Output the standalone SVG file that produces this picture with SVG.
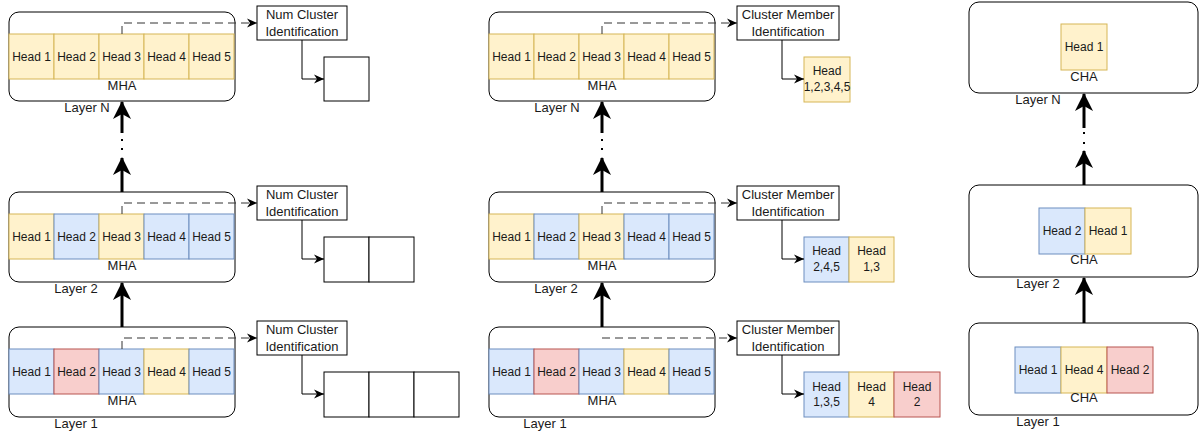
<svg xmlns="http://www.w3.org/2000/svg" width="1199" height="431" viewBox="0 0 1199 431">
<style>
text{font-family:"Liberation Sans",Arial,sans-serif;font-size:12px;fill:#1a1a1a;text-anchor:middle;dominant-baseline:central}
text.lb{font-size:13px}
.layer{fill:#fff;stroke:#000;stroke-width:1}
.y{fill:#fff2cc;stroke:#d6b656}
.b{fill:#dae8fc;stroke:#6c8ebf}
.r{fill:#f8cecc;stroke:#b85450}
.w{fill:#fff;stroke:#000}
.thick{fill:none;stroke:#000;stroke-width:3;marker-end:url(#big)}
.dash{fill:none;stroke:#333;stroke-width:1;stroke-dasharray:8 5;marker-end:url(#small)}
.solid{fill:none;stroke:#000;stroke-width:1;marker-end:url(#small)}
.dot{fill:#000}
</style>
<defs>
<marker id="big" markerUnits="userSpaceOnUse" viewBox="0 0 18 18" markerWidth="18" markerHeight="18" refX="17" refY="9" orient="auto">
<path d="M0,0 L18,9 L0,18 L5,9 Z" fill="#000"/>
</marker>
<marker id="small" markerUnits="userSpaceOnUse" viewBox="0 0 10 10" markerWidth="10" markerHeight="10" refX="10" refY="5" orient="auto">
<path d="M0,0.5 L10,5 L0,9.5 L3,5 Z" fill="#000"/>
</marker>
</defs>

<!-- ===== Panel 1 ===== -->
<g id="p1-layerN">
<rect class="layer" x="9" y="12" width="226" height="89" rx="10"/>
<rect class="y" x="9" y="34" width="45" height="45"/><text x="31.5" y="56.5">Head 1</text>
<rect class="y" x="54" y="34" width="45" height="45"/><text x="76.5" y="56.5">Head 2</text>
<rect class="y" x="99" y="34" width="45" height="45"/><text x="121.5" y="56.5">Head 3</text>
<rect class="y" x="144" y="34" width="45" height="45"/><text x="166.5" y="56.5">Head 4</text>
<rect class="y" x="189" y="34" width="45" height="45"/><text x="211.5" y="56.5">Head 5</text>
<text class="lb" x="122" y="85">MHA</text>
<text class="lb" x="87" y="107">Layer N</text>
</g>
<g id="p1-ncN">
<rect class="w" x="257" y="6" width="90" height="34"/>
<text class="lb" x="302" y="14.5">Num Cluster</text><text class="lb" x="302" y="31.5">Identification</text>
</g>
<g id="p1-resN">
<rect class="w" x="324" y="57" width="45" height="44"/>
</g>

<g id="p1-layer2">
<rect class="layer" x="9" y="192" width="226" height="90" rx="10"/>
<rect class="y" x="9" y="214" width="45" height="45"/><text x="31.5" y="236.5">Head 1</text>
<rect class="b" x="54" y="214" width="45" height="45"/><text x="76.5" y="236.5">Head 2</text>
<rect class="y" x="99" y="214" width="45" height="45"/><text x="121.5" y="236.5">Head 3</text>
<rect class="b" x="144" y="214" width="45" height="45"/><text x="166.5" y="236.5">Head 4</text>
<rect class="b" x="189" y="214" width="45" height="45"/><text x="211.5" y="236.5">Head 5</text>
<text class="lb" x="122" y="265">MHA</text>
<text class="lb" x="76" y="288">Layer 2</text>
</g>
<g id="p1-nc2">
<rect class="w" x="257" y="186" width="90" height="34"/>
<text class="lb" x="302" y="194.5">Num Cluster</text><text class="lb" x="302" y="211.5">Identification</text>
</g>
<g id="p1-res2">
<rect class="w" x="324" y="237" width="45" height="45"/>
<rect class="w" x="369" y="237" width="45" height="45"/>
</g>

<g id="p1-layer1">
<rect class="layer" x="9" y="327" width="226" height="90" rx="10"/>
<rect class="b" x="9" y="349" width="45" height="45"/><text x="31.5" y="371.5">Head 1</text>
<rect class="r" x="54" y="349" width="45" height="45"/><text x="76.5" y="371.5">Head 2</text>
<rect class="b" x="99" y="349" width="45" height="45"/><text x="121.5" y="371.5">Head 3</text>
<rect class="y" x="144" y="349" width="45" height="45"/><text x="166.5" y="371.5">Head 4</text>
<rect class="b" x="189" y="349" width="45" height="45"/><text x="211.5" y="371.5">Head 5</text>
<text class="lb" x="122" y="400">MHA</text>
<text class="lb" x="76" y="423">Layer 1</text>
</g>
<g id="p1-nc1">
<rect class="w" x="257" y="321" width="90" height="34"/>
<text class="lb" x="302" y="329.5">Num Cluster</text><text class="lb" x="302" y="346.5">Identification</text>
</g>
<g id="p1-res1">
<rect class="w" x="324" y="372" width="45" height="45"/>
<rect class="w" x="369" y="372" width="45" height="45"/>
<rect class="w" x="414" y="372" width="45" height="45"/>
</g>

<!-- ===== Panel 2 ===== -->
<g id="p2-layerN">
<rect class="layer" x="489" y="12" width="226" height="89" rx="10"/>
<rect class="y" x="489" y="34" width="45" height="45"/><text x="511.5" y="56.5">Head 1</text>
<rect class="y" x="534" y="34" width="45" height="45"/><text x="556.5" y="56.5">Head 2</text>
<rect class="y" x="579" y="34" width="45" height="45"/><text x="601.5" y="56.5">Head 3</text>
<rect class="y" x="624" y="34" width="45" height="45"/><text x="646.5" y="56.5">Head 4</text>
<rect class="y" x="669" y="34" width="45" height="45"/><text x="691.5" y="56.5">Head 5</text>
<text class="lb" x="602" y="85">MHA</text>
<text class="lb" x="557" y="107">Layer N</text>
</g>
<g id="p2-cmN">
<rect class="w" x="737" y="6" width="102" height="34"/>
<text class="lb" x="788" y="14.5">Cluster Member</text><text class="lb" x="788" y="31.5">Identification</text>
</g>
<g id="p2-resN">
<rect class="y" x="804" y="57" width="46" height="45"/>
<text x="827" y="71">Head</text><text x="827" y="87">1,2,3,4,5</text>
</g>

<g id="p2-layer2">
<rect class="layer" x="489" y="192" width="226" height="90" rx="10"/>
<rect class="y" x="489" y="214" width="45" height="45"/><text x="511.5" y="236.5">Head 1</text>
<rect class="b" x="534" y="214" width="45" height="45"/><text x="556.5" y="236.5">Head 2</text>
<rect class="y" x="579" y="214" width="45" height="45"/><text x="601.5" y="236.5">Head 3</text>
<rect class="b" x="624" y="214" width="45" height="45"/><text x="646.5" y="236.5">Head 4</text>
<rect class="b" x="669" y="214" width="45" height="45"/><text x="691.5" y="236.5">Head 5</text>
<text class="lb" x="602" y="265">MHA</text>
<text class="lb" x="556" y="288">Layer 2</text>
</g>
<g id="p2-cm2">
<rect class="w" x="737" y="186" width="102" height="34"/>
<text class="lb" x="788" y="194.5">Cluster Member</text><text class="lb" x="788" y="211.5">Identification</text>
</g>
<g id="p2-res2">
<rect class="b" x="804" y="237" width="45" height="45"/>
<text x="826.5" y="251">Head</text><text x="826.5" y="267">2,4,5</text>
<rect class="y" x="849" y="237" width="45" height="45"/>
<text x="871.5" y="251">Head</text><text x="871.5" y="267">1,3</text>
</g>

<g id="p2-layer1">
<rect class="layer" x="489" y="327" width="226" height="90" rx="10"/>
<rect class="b" x="489" y="349" width="45" height="45"/><text x="511.5" y="371.5">Head 1</text>
<rect class="r" x="534" y="349" width="45" height="45"/><text x="556.5" y="371.5">Head 2</text>
<rect class="b" x="579" y="349" width="45" height="45"/><text x="601.5" y="371.5">Head 3</text>
<rect class="y" x="624" y="349" width="45" height="45"/><text x="646.5" y="371.5">Head 4</text>
<rect class="b" x="669" y="349" width="45" height="45"/><text x="691.5" y="371.5">Head 5</text>
<text class="lb" x="602" y="400">MHA</text>
<text class="lb" x="545" y="423">Layer 1</text>
</g>
<g id="p2-cm1">
<rect class="w" x="737" y="321" width="102" height="34"/>
<text class="lb" x="788" y="329.5">Cluster Member</text><text class="lb" x="788" y="346.5">Identification</text>
</g>
<g id="p2-res1">
<rect class="b" x="804" y="372" width="45" height="45"/>
<text x="826.5" y="387">Head</text><text x="826.5" y="402">1,3,5</text>
<rect class="y" x="849" y="372" width="45" height="45"/>
<text x="871.5" y="387">Head</text><text x="871.5" y="402">4</text>
<rect class="r" x="894" y="372" width="46" height="45"/>
<text x="917" y="387">Head</text><text x="917" y="402">2</text>
</g>

<!-- ===== Panel 3 ===== -->
<g id="p3-layerN">
<rect class="layer" x="969" y="2" width="229" height="91" rx="10"/>
<rect class="y" x="1061" y="24" width="46" height="46"/><text x="1084" y="47">Head 1</text>
<text class="lb" x="1084" y="76">CHA</text>
<text class="lb" x="1038" y="99">Layer N</text>
</g>
<g id="p3-layer2">
<rect class="layer" x="969" y="185" width="229" height="92" rx="10"/>
<rect class="b" x="1039" y="208" width="46" height="46"/><text x="1062" y="231">Head 2</text>
<rect class="y" x="1085" y="208" width="46" height="46"/><text x="1108" y="231">Head 1</text>
<text class="lb" x="1084" y="259">CHA</text>
<text class="lb" x="1038" y="283">Layer 2</text>
</g>
<g id="p3-layer1">
<rect class="layer" x="969" y="323" width="229" height="92" rx="10"/>
<rect class="b" x="1015" y="347" width="46" height="46"/><text x="1038" y="370">Head 1</text>
<rect class="y" x="1061" y="347" width="46" height="46"/><text x="1084" y="370">Head 4</text>
<rect class="r" x="1107" y="347" width="46" height="46"/><text x="1130" y="370">Head 2</text>
<text class="lb" x="1084" y="397">CHA</text>
<text class="lb" x="1038" y="421">Layer 1</text>
</g>

<!-- ===== Connectors ===== -->
<g id="connectors">
<!-- panel 1 -->
<path class="thick" d="M122,327 V283"/>
<path class="thick" d="M122,192 V158"/>
<path class="thick" d="M122,133 V102"/>
<rect class="dot" x="121" y="139" width="2" height="2"/>
<rect class="dot" x="121" y="148" width="2" height="2"/>
<path class="dash" d="M122,34 V23 H257"/>
<path class="dash" d="M122,214 V203 H257"/>
<path class="dash" d="M122,349 V338 H257"/>
<path class="solid" d="M302,40 V79 H324"/>
<path class="solid" d="M302,220 V259 H324"/>
<path class="solid" d="M302,355 V394 H324"/>
<!-- panel 2 -->
<path class="thick" d="M602,327 V283"/>
<path class="thick" d="M602,192 V158"/>
<path class="thick" d="M602,133 V102"/>
<rect class="dot" x="601" y="139" width="2" height="2"/>
<rect class="dot" x="601" y="148" width="2" height="2"/>
<path class="dash" d="M602,34 V23 H737"/>
<path class="dash" d="M602,214 V203 H737"/>
<path class="dash" d="M602,338 H737"/>
<path class="solid" d="M782,40 V79 H804"/>
<path class="solid" d="M782,220 V259 H804"/>
<path class="solid" d="M782,355 V394 H804"/>
<!-- panel 3 -->
<path class="thick" d="M1084,323 V278"/>
<path class="thick" d="M1084,185 V151"/>
<path class="thick" d="M1084,128 V94"/>
<rect class="dot" x="1083" y="132" width="2" height="2"/>
<rect class="dot" x="1083" y="142" width="2" height="2"/>
</g>
</svg>
